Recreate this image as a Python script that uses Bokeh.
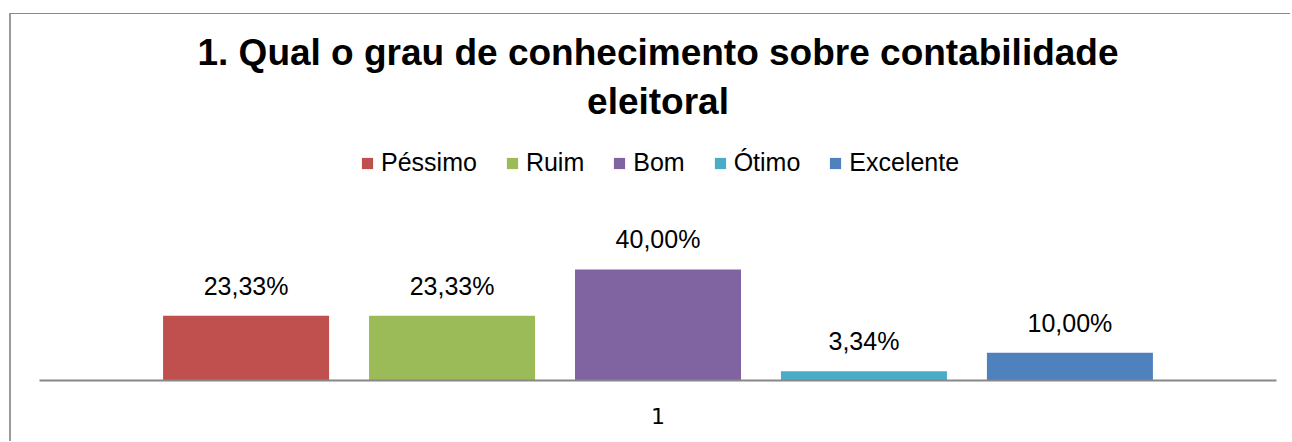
from bokeh.plotting import figure
from bokeh.models import ColumnDataSource, Range1d, FactorRange, Title
from bokeh.transform import dodge
from bokeh.core.properties import value
from bokeh.embed import file_html
from bokeh.resources import INLINE

title_lines = ["1. Qual o grau de conhecimento sobre contabilidade", "eleitoral"]
categories = ["1"]
series = ["Péssimo", "Ruim", "Bom", "Ótimo", "Excelente"]
values = [23.33, 23.33, 40.00, 3.34, 10.00]
colors = ["#C0504D", "#9BBB59", "#8064A2", "#4BACC6", "#4F81BD"]

FONT = "Liberation Sans"

# canvas starts at page (11, 14): 9/13 px margin + left/top border of the chart box
p = figure(width=1281, height=428, x_range=FactorRange(*categories),
           y_range=Range1d(0, 90.09), output_backend="svg", toolbar_location=None,
           y_axis_location=None, min_border_left=28, min_border_right=16,
           min_border_top=116, min_border_bottom=62)
p.margin = (13, 0, 0, 9)
p.styles = {"border-left": "2px solid #9a9a9a", "border-top": "1px solid #8a8a8a"}
p.outline_line_color = None
p.xgrid.grid_line_color = None
p.ygrid.grid_line_color = None

step = 0.1665
bar_w = 0.1342
n = len(series)
for i, (name, v, c) in enumerate(zip(series, values, colors)):
    lab = f"{v:.2f}".replace(".", ",") + "%"
    src = ColumnDataSource(dict(cat=categories, val=[v], label=[lab]))
    off = (i - (n - 1) / 2) * step
    p.vbar(x=dodge("cat", off, range=p.x_range), top="val", width=bar_w, source=src,
           fill_color=c, line_color=None, legend_label=name)
    p.text(x=dodge("cat", off, range=p.x_range), y="val", text="label", source=src,
           text_align="center", text_baseline="alphabetic", y_offset=-30,
           text_font=value(FONT), text_font_size="25px", text_color="#000000")

def style_title(t):
    t.align = "center"
    t.text_font = FONT
    t.text_font_size = "37px"
    t.text_font_style = "bold"
    t.text_color = "#000000"

# p.title is placed outermost, the added Title sits next to the frame
p.title.text = title_lines[0]
style_title(p.title)
p.title.standoff = -7
t2 = Title(text=title_lines[1])
style_title(t2)
t2.standoff = 18
p.add_layout(t2, "above")

ax = p.xaxis[0]
ax.axis_line_color = "#878787"
ax.axis_line_width = 2
ax.major_tick_line_color = None
ax.minor_tick_line_color = None
ax.major_label_standoff = 21
ax.major_label_text_font = "DejaVu Sans"
ax.major_label_text_font_size = "22px"
ax.major_label_text_color = "#000000"

lg = p.legend[0]
lg.orientation = "horizontal"
lg.location = (321, 203)
lg.padding = 0
lg.margin = 0
lg.spacing = 28
lg.glyph_width = 14
lg.glyph_height = 14
lg.label_standoff = 7
lg.label_text_font = FONT
lg.label_text_font_size = "25px"
lg.label_text_color = "#000000"
lg.border_line_color = None
lg.background_fill_alpha = 0

open("out.html", "w").write(file_html(p, INLINE))
